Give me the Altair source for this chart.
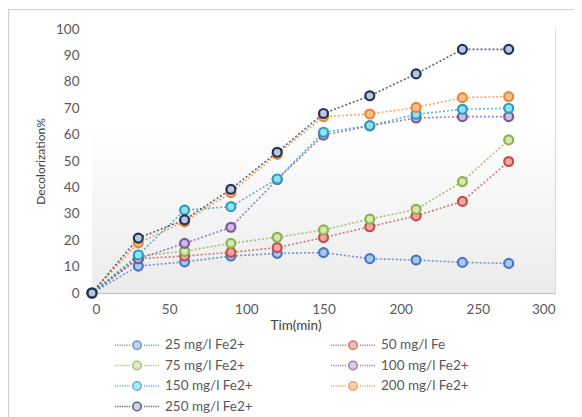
import altair as alt
import pandas as pd

times = [0, 30, 60, 90, 120, 150, 180, 210, 240, 270]
series_names = ["25 mg/l Fe2+", "50 mg/l Fe", "75 mg/l Fe2+", "100 mg/l Fe2+",
                "150 mg/l Fe2+", "200 mg/l Fe2+", "250 mg/l Fe2+"]
s25 = [0, 10.2, 11.8, 14.0, 15.0, 15.3, 13.0, 12.5, 11.6, 11.2]
s50 = [0, 13.0, 14.0, 15.4, 17.2, 21.0, 25.1, 29.2, 34.7, 49.8]
s75 = [0, 14.0, 15.8, 18.8, 21.1, 23.9, 28.0, 31.7, 42.2, 58.0]
s100 = [0, 13.0, 18.8, 24.9, 43.0, 59.8, 63.3, 66.3, 66.8, 66.8]
s150 = [0, 14.4, 31.4, 32.7, 43.2, 60.9, 63.4, 67.7, 69.6, 70.0]
s200 = [0, 19.0, 27.0, 38.0, 52.5, 66.8, 67.8, 70.3, 74.0, 74.4]
s250 = [0, 20.8, 27.7, 39.3, 53.3, 68.0, 74.7, 83.0, 92.3, 92.3]
all_series = [s25, s50, s75, s100, s150, s200, s250]

stroke_colors = ["#4a78c0", "#c0504d", "#8fb050", "#7a5a9e", "#2f9cbc", "#e8883a", "#243450"]
fill_colors = ["#a9c8ef", "#f3a3a3", "#d4e8b0", "#cdbbe6", "#8fe3f7", "#fbbf86", "#b8c6e6"]

rows = []
for name, vals in zip(series_names, all_series):
    for t, v in zip(times, vals):
        rows.append({"t": t, "v": v, "series": name})
df = pd.DataFrame(rows)

W, H = 463, 264
FONT = "Lato"

xscale = alt.Scale(domain=[0, 300], nice=False)
yscale = alt.Scale(domain=[0, 100], nice=False)

x_axis = alt.Axis(values=[0, 50, 100, 150, 200, 250, 300], title="Tim(min)",
                  titleX=203.5, titleY=32, titleBaseline="middle", titleFont=FONT,
                  titleFontSize=13.5, titleFontWeight="normal", titleColor="#404040",
                  labelFont=FONT, labelFontSize=13.5, labelColor="#595959",
                  labelPadding=9, ticks=False, domainColor="#bfbfbf",
                  gridColor="#d9d9d9")
y_axis = alt.Axis(values=list(range(0, 101, 10)), title="Decolorization%",
                  titleFont=FONT, titleFontSize=12, titleFontWeight="normal",
                  titleColor="#404040", titlePadding=8,
                  labelFont=FONT, labelFontSize=13.5, labelColor="#595959",
                  labelPadding=13, ticks=False, domainColor="#d9d9d9",
                  gridColor="#d9d9d9")

stroke_scale = alt.Scale(domain=series_names, range=stroke_colors)
fill_scale = alt.Scale(domain=series_names, range=fill_colors)

# dotted line segments on both sides of a small circle
segs = []
xs = [-2.2, -1.97, -1.74, -1.51, -1.28, -1.05, -0.82]
for a in xs:
    segs.append(f"M {a} 0 L {a + 0.12} 0")
    segs.append(f"M {-a - 0.12} 0 L {-a} 0")
legend_symbol = " ".join(segs) + " M -0.42 0 A 0.42 0.42 0 1 1 0.42 0 A 0.42 0.42 0 1 1 -0.42 0 Z"

legend = alt.Legend(
    title=None, orient="none", legendX=34, legendY=305, columns=2, direction="horizontal",
    symbolType=legend_symbol, symbolSize=400, symbolStrokeWidth=1.6,
    labelFont=FONT, labelFontSize=13.5, labelColor="#595959",
    columnPadding=74, rowPadding=1.5, labelOffset=17, labelLimit=200,
)

bg_df = pd.DataFrame({"x0": [0], "x1": [300], "y0": [0], "y1": [100]})
background = alt.Chart(bg_df).mark_rect(
    fill=alt.Gradient(gradient="linear", x1=0, y1=0, x2=0, y2=1,
                      stops=[alt.GradientStop(color="#ffffff", offset=0),
                             alt.GradientStop(color="#ffffff", offset=0.35),
                             alt.GradientStop(color="#ebebeb", offset=1)])
).encode(
    x=alt.X("x0:Q", scale=xscale, axis=x_axis),
    x2="x1:Q",
    y=alt.Y("y0:Q", scale=yscale, axis=y_axis),
    y2="y1:Q",
)

frame = alt.Chart(bg_df).mark_rect(filled=False, stroke="#cfcfcf", strokeWidth=1.2).encode(
    x=alt.value(-83.5), x2=alt.value(520), y=alt.value(-19.5), y2=alt.value(430)
)

lines = alt.Chart(df).mark_line(strokeDash=[2, 2], strokeWidth=1.6, opacity=0.75).encode(
    x=alt.X("t:Q", scale=xscale, axis=x_axis),
    y=alt.Y("v:Q", scale=yscale, axis=y_axis),
    stroke=alt.Stroke("series:N", scale=stroke_scale, legend=legend),
    detail="series:N",
)

points = alt.Chart(df).mark_point(shape="circle", filled=True, size=80, strokeWidth=2.2, opacity=1).encode(
    x=alt.X("t:Q", scale=xscale, axis=x_axis),
    y=alt.Y("v:Q", scale=yscale, axis=y_axis),
    stroke=alt.Stroke("series:N", scale=stroke_scale, legend=legend),
    fill=alt.Fill("series:N", scale=fill_scale, legend=legend),
)

chart = alt.layer(frame, background, lines, points).properties(
    width=W, height=H,
    autosize=alt.AutoSizeParams(type="none"),
    padding={"left": 84, "top": 21, "right": 19, "bottom": 124},
).configure_view(stroke="#d9d9d9").configure(background="white")

chart.save("out.html", embed_options={"renderer": "svg", "actions": False})
